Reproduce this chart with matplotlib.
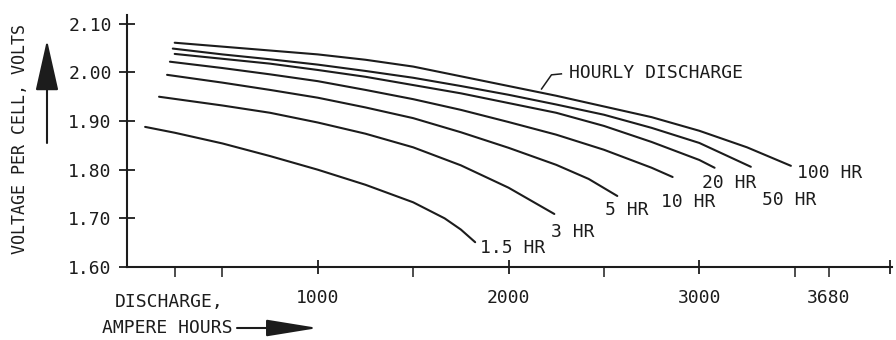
import matplotlib
matplotlib.use("Agg")
import matplotlib.pyplot as plt

# discharge curves: ampere hours vs volts per cell
ah_1p5 = [95, 250, 500, 750, 1000, 1250, 1500, 1665, 1750, 1825]
v_1p5 = [1.888, 1.876, 1.854, 1.828, 1.800, 1.769, 1.733, 1.700, 1.677, 1.651]
ah_3 = [168, 500, 750, 1000, 1250, 1500, 1750, 2000, 2240]
v_3 = [1.950, 1.932, 1.917, 1.897, 1.874, 1.846, 1.809, 1.763, 1.709]
ah_5 = [210, 500, 750, 1000, 1250, 1500, 1750, 2000, 2250, 2420, 2570]
v_5 = [1.995, 1.979, 1.964, 1.948, 1.928, 1.906, 1.877, 1.845, 1.810, 1.781, 1.746]
ah_10 = [225, 500, 750, 1000, 1250, 1500, 1750, 2000, 2250, 2500, 2750, 2860]
v_10 = [2.022, 2.009, 1.996, 1.982, 1.964, 1.945, 1.923, 1.898, 1.872, 1.841, 1.804, 1.785]
ah_20 = [250, 500, 750, 1000, 1250, 1500, 1750, 2000, 2250, 2500, 2750, 3000, 3080]
v_20 = [2.038, 2.028, 2.018, 2.005, 1.991, 1.974, 1.957, 1.937, 1.917, 1.890, 1.857, 1.820, 1.804]
ah_50 = [240, 500, 750, 1000, 1250, 1500, 1750, 2000, 2250, 2500, 2750, 3000, 3270]
v_50 = [2.049, 2.037, 2.027, 2.016, 2.003, 1.989, 1.972, 1.954, 1.934, 1.913, 1.886, 1.855, 1.806]
ah_100 = [250, 500, 750, 1000, 1250, 1500, 1750, 2000, 2250, 2500, 2750, 3000, 3250, 3480]
v_100 = [2.061, 2.053, 2.045, 2.037, 2.026, 2.012, 1.992, 1.972, 1.952, 1.930, 1.908, 1.880, 1.846, 1.808]

curve_labels = ["1.5 HR", "3 HR", "5 HR", "10 HR", "20 HR", "50 HR", "100 HR"]
# where each label sits (data coords, left/centre)
label_pos = [(1848, 1.639), (2225, 1.672), (2503, 1.717), (2801, 1.734),
             (3016, 1.773), (3330, 1.738), (3513, 1.793)]

y_ticks = [1.60, 1.70, 1.80, 1.90, 2.00, 2.10]
x_major = [1000, 2000, 3000, 4000]
x_major_lbl = ["1000", "2000", "3000", ""]
x_minor = [250, 500, 1500, 2500, 3500, 3680]
x_minor_lbl = ["", "", "", "", "", "3680"]

INK = "#1c1c1c"
plt.rcParams["font.family"] = ["DejaVu Sans Mono"]
plt.rcParams["font.size"] = 13

fig = plt.figure(figsize=(8.96, 3.4), dpi=100)
ax = fig.add_axes([127 / 896, 1 - 267 / 340, 765 / 896, (267 - 15) / 340])

series = [(ah_1p5, v_1p5), (ah_3, v_3), (ah_5, v_5), (ah_10, v_10),
          (ah_20, v_20), (ah_50, v_50), (ah_100, v_100)]
for (xs, ys), lbl, (lx, ly) in zip(series, curve_labels, label_pos):
    ax.plot(xs, ys, color=INK, lw=1.5, solid_capstyle="round", solid_joinstyle="round")
    ax.text(lx, ly, lbl, ha="left", va="center", color=INK)

# leader for the "hourly discharge" note
ax.plot([2173, 2225, 2277], [1.966, 1.995, 1.997], color=INK, lw=1.1)
ax.text(2319, 1.999, "HOURLY DISCHARGE", ha="left", va="center", color=INK)

ax.set_xlim(0, 4010)
ax.set_ylim(1.60, 2.118)
for s in ["top", "right"]:
    ax.spines[s].set_visible(False)
for s in ["left", "bottom"]:
    ax.spines[s].set_linewidth(1.5)
    ax.spines[s].set_color(INK)

ax.set_yticks(y_ticks)
ax.set_yticklabels([f"{t:.2f}" for t in y_ticks])
ax.tick_params(axis="y", direction="inout", length=12, width=1.3, pad=5, colors=INK)

ax.set_xticks(x_major)
ax.set_xticklabels(x_major_lbl)
ax.set_xticks(x_minor, minor=True)
ax.set_xticklabels(x_minor_lbl, minor=True)
ax.tick_params(axis="x", which="major", direction="inout", length=10, width=1.3, pad=11, colors=INK)
ax.tick_params(axis="x", which="minor", direction="out", length=7, width=1.1, pad=9, colors=INK)

# axis titles drawn like the original: text plus fat arrows
fig.text(20 / 896, 1 - 139 / 340, "VOLTAGE PER CELL, VOLTS", rotation=90,
         ha="center", va="center", fontsize=12, color=INK)
fig.text(115 / 896, 1 - 302 / 340, "DISCHARGE,", ha="left", va="center", color=INK)
fig.text(102 / 896, 1 - 328 / 340, "AMPERE HOURS", ha="left", va="center", color=INK)

arrow = dict(arrowstyle="-|>,head_length=1.6,head_width=0.36", color=INK, lw=1.5,
             mutation_scale=20, shrinkA=0, shrinkB=0)
fig.add_artist(matplotlib.patches.FancyArrowPatch(
    (47 / 896, 1 - 143 / 340), (47 / 896, 1 - 40 / 340),
    transform=fig.transFigure, **arrow))
arrow2 = dict(arrow, arrowstyle="-|>,head_length=1.6,head_width=0.26")
fig.add_artist(matplotlib.patches.FancyArrowPatch(
    (237 / 896, 1 - 328 / 340), (318 / 896, 1 - 328 / 340),
    transform=fig.transFigure, **arrow2))

fig.savefig("out.png", dpi=100, facecolor="white")
